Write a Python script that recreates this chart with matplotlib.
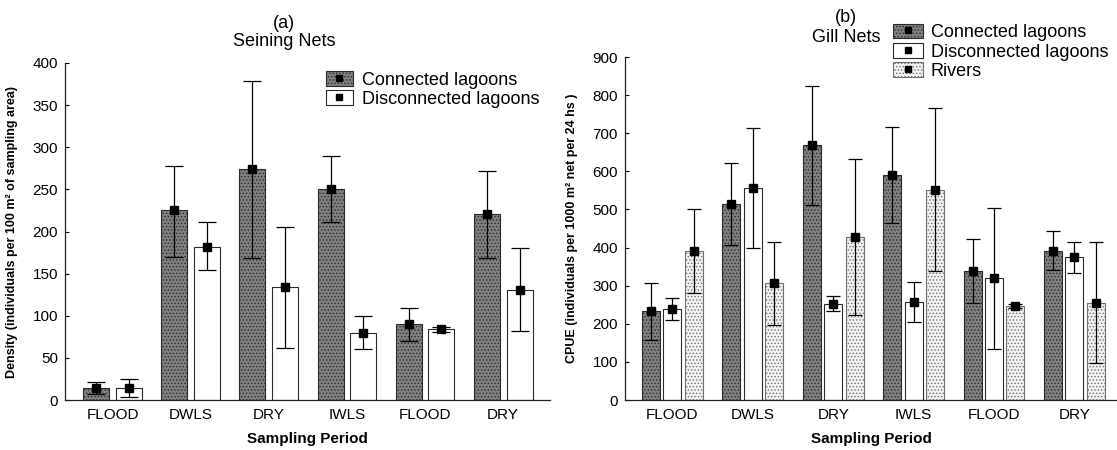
import matplotlib
matplotlib.use("Agg")
import matplotlib.pyplot as plt
from matplotlib.lines import Line2D
from matplotlib.patches import Patch
import numpy as np

plt.rcParams["font.family"] = ["Liberation Sans", "DejaVu Sans"]
plt.rcParams["hatch.linewidth"] = 0.6

# ── data ──────────────────────────────────────────────────────────────────────
PERIODS = ["FLOOD", "DWLS", "DRY", "IWLS", "FLOOD", "DRY"]

# (a) seining nets: density, mean with lower / upper error limits
SEINE_CONN = [14, 225, 274, 250, 90, 221]
SEINE_CONN_LO = [7, 170, 169, 211, 70, 169]
SEINE_CONN_HI = [21, 278, 379, 290, 109, 272]
SEINE_DISC = [14, 182, 134, 80, 84, 131]
SEINE_DISC_LO = [3, 154, 62, 60, 81, 82]
SEINE_DISC_HI = [25, 211, 205, 100, 87, 180]

# (b) gill nets: CPUE
GILL_CONN = [234, 514, 669, 590, 338, 391]
GILL_CONN_LO = [158, 406, 513, 465, 255, 340]
GILL_CONN_HI = [307, 621, 825, 716, 423, 443]
GILL_DISC = [239, 557, 253, 257, 319, 375]
GILL_DISC_LO = [211, 400, 234, 205, 133, 334]
GILL_DISC_HI = [268, 713, 273, 309, 503, 415]
GILL_RIV = [390, 306, 428, 551, 247, 255]
GILL_RIV_LO = [280, 197, 224, 339, 241, 97]
GILL_RIV_HI = [500, 414, 632, 766, 253, 414]

# ── styles ────────────────────────────────────────────────────────────────────
CONN_STYLE = dict(facecolor="#808080", hatch=".....", edgecolor="#2a2a2a")
DISC_STYLE = dict(facecolor="white", edgecolor="#2a2a2a")
RIV_STYLE = dict(facecolor="#f2f2f2", hatch=".....", edgecolor="#707070")


def draw_series(ax, x, means, lo, hi, style, width, capsize):
    means = np.asarray(means, dtype=float)
    yerr = [means - np.asarray(lo), np.asarray(hi) - means]
    ax.bar(x, means, width=width, linewidth=0.8, zorder=2, **style)
    ax.errorbar(x, means, yerr=yerr, fmt="s", color="black", ms=5.5,
                elinewidth=0.9, capsize=capsize, capthick=0.9, zorder=3)


def legend_handle(style):
    return (Patch(linewidth=0.8, **style),
            Line2D([], [], marker="s", color="black", ls="none", ms=5))


def style_axes(ax, ymax, ystep, xlim, ylabel):
    ax.set_ylim(0, ymax)
    ax.set_yticks(np.arange(0, ymax + 1, ystep))
    ax.set_xlim(*xlim)
    ax.set_xticks(np.arange(len(PERIODS)))
    ax.set_xticklabels(PERIODS)
    ax.spines[["top", "right"]].set_visible(False)
    for s in ("left", "bottom"):
        ax.spines[s].set_linewidth(0.9)
        ax.spines[s].set_color("#222222")
    ax.tick_params(axis="y", direction="in", length=3, labelsize=11, pad=5)
    ax.tick_params(axis="x", length=0, labelsize=11, pad=6)
    ax.set_xlabel("Sampling Period", fontsize=11, fontweight="bold", labelpad=7)
    ax.set_ylabel(ylabel, fontsize=9, fontweight="bold")


fig = plt.figure(figsize=(11.17, 4.5), dpi=100)
ax1 = fig.add_axes([0.0582, 0.1111, 0.4342, 0.7489])
ax2 = fig.add_axes([0.5595, 0.1111, 0.4405, 0.7622])

# ── panel (a) ─────────────────────────────────────────────────────────────────
x = np.arange(len(PERIODS))
w1 = 0.333
draw_series(ax1, x - 0.21, SEINE_CONN, SEINE_CONN_LO, SEINE_CONN_HI,
            CONN_STYLE, w1, 6.5)
draw_series(ax1, x + 0.21, SEINE_DISC, SEINE_DISC_LO, SEINE_DISC_HI,
            DISC_STYLE, w1, 6.5)
style_axes(ax1, 400, 50, (-0.61, 5.6),
           "Density (individuals per 100 m² of sampling area)")
ax1.yaxis.set_label_coords(-0.097, 0.5)
ax1.legend([legend_handle(CONN_STYLE), legend_handle(DISC_STYLE)],
           ["Connected lagoons", "Disconnected lagoons"],
           loc="upper left", bbox_to_anchor=(325.7 / 1117, 1 - 71 / 450),
           bbox_transform=fig.transFigure, frameon=False, fontsize=13,
           borderpad=0, borderaxespad=0, handlelength=1.5,
           handleheight=0.89, handletextpad=0.5, labelspacing=0.1)

# ── panel (b) ─────────────────────────────────────────────────────────────────
w2 = 0.224
draw_series(ax2, x - 0.267, GILL_CONN, GILL_CONN_LO, GILL_CONN_HI,
            CONN_STYLE, w2, 4.8)
draw_series(ax2, x, GILL_DISC, GILL_DISC_LO, GILL_DISC_HI,
            DISC_STYLE, w2, 4.8)
draw_series(ax2, x + 0.267, GILL_RIV, GILL_RIV_LO, GILL_RIV_HI,
            RIV_STYLE, w2, 4.8)
style_axes(ax2, 900, 100, (-0.59, 5.53),
           "CPUE (individuals per 1000 m² net per 24 hs )")
ax2.yaxis.set_label_coords(-0.0955, 0.5)
ax2.legend([legend_handle(CONN_STYLE), legend_handle(DISC_STYLE),
            legend_handle(RIV_STYLE)],
           ["Connected lagoons", "Disconnected lagoons", "Rivers"],
           loc="upper left", bbox_to_anchor=(893 / 1117, 1 - 23.5 / 450),
           bbox_transform=fig.transFigure, frameon=False, fontsize=13,
           borderpad=0, borderaxespad=0, handlelength=1.65,
           handleheight=0.89, handletextpad=0.45, labelspacing=0.1)

# ── titles ────────────────────────────────────────────────────────────────────
fig.text(284 / 1117, 1 - 23 / 450, "(a)", ha="center", va="center", fontsize=13)
fig.text(284 / 1117, 1 - 42 / 450, "Seining Nets", ha="center", va="center",
         fontsize=13)
fig.text(846 / 1117, 1 - 18 / 450, "(b)", ha="center", va="center", fontsize=13)
fig.text(846 / 1117, 1 - 38 / 450, "Gill Nets", ha="center", va="center",
         fontsize=13)

fig.savefig("out.png", dpi=100)
